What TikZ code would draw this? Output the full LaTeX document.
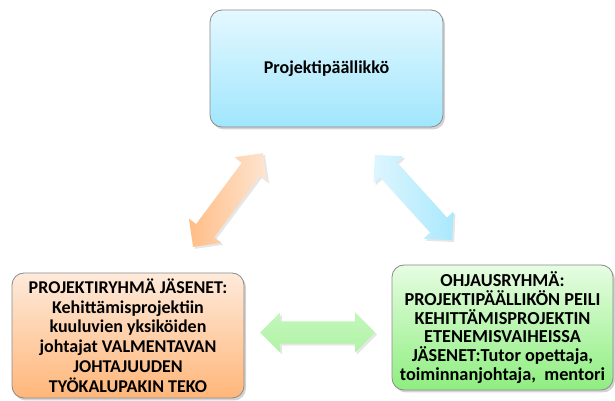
\documentclass[tikz,border=0pt]{standalone}
\usepackage{fontspec}
\setmainfont{Carlito}
\usetikzlibrary{shapes.arrows,shadows}
\definecolor{bluetop}{HTML}{E4F8FF}
\definecolor{bluebot}{HTML}{A0E6FD}
\definecolor{orgtop}{HTML}{FEEADB}
\definecolor{orgbot}{HTML}{FFB679}
\definecolor{grntop}{HTML}{E6FDE2}
\definecolor{grnbot}{HTML}{8FEE80}
\definecolor{boxline}{HTML}{8A8A8A}
\tikzset{
  boxbase/.style={rounded corners=12pt, draw=boxline, line width=0.8pt,
    align=center, font=\bfseries\fontsize{18}{19.8}\selectfont, inner sep=0pt,
    drop shadow={opacity=0.35, shadow xshift=2pt, shadow yshift=-2.5pt}},
  blockarrow/.style={double arrow, minimum width=40pt, inner xsep=0pt, inner ysep=11pt,
    double arrow head extend=9pt, double arrow tip angle=90,
    drop shadow={opacity=0.2, shadow xshift=2pt, shadow yshift=-2pt}}
}
\begin{document}
\begin{tikzpicture}[x=1pt,y=1pt]
\useasboundingbox (0,0) rectangle (615,401);
\node[boxbase, minimum width=233pt, minimum height=117pt,
  top color=bluetop, bottom color=bluebot,
  font=\bfseries\fontsize{18}{20}\selectfont] (pm) at (326.5,332.5) {Projektipäällikkö};
\node[boxbase, minimum width=232pt, minimum height=125pt,
  top color=orgtop, bottom color=orgbot] (pr) at (128,65.5)
  {PROJEKTIRYHMÄ JÄSENET:\\Kehittämisprojektiin\\kuuluvien yksiköiden\\johtajat VALMENTAVAN\\JOHTAJUUDEN\\TYÖKALUPAKIN TEKO};
\node[boxbase, minimum width=221pt, minimum height=125pt,
  top color=grntop, bottom color=grnbot,
  font=\bfseries\fontsize{18.3}{18.7}\selectfont] (oh) at (502.5,73.5)
  {OHJAUSRYHMÄ:\\PROJEKTIPÄÄLLIKÖN PEILI\\KEHITTÄMISPROJEKTIN\\ETENEMISVAIHEISSA\\JÄSENET:Tutor opettaja,\\toiminnanjohtaja,\ \ mentori};
\node[blockarrow, minimum height=117pt, rotate=53.3,
  left color=orgbot!90, right color=orgtop!90!orgbot] (a1) at (228,201) {};
\node[blockarrow, minimum height=115pt, rotate=-47.8,
  left color=bluetop!90!bluebot, right color=bluebot!90] (a2) at (413.5,203.5) {};
\node[blockarrow, minimum height=115pt,
  top color=grntop!60!grnbot, bottom color=grnbot!70] (a3) at (317.5,68.5) {};
\end{tikzpicture}
\end{document}
